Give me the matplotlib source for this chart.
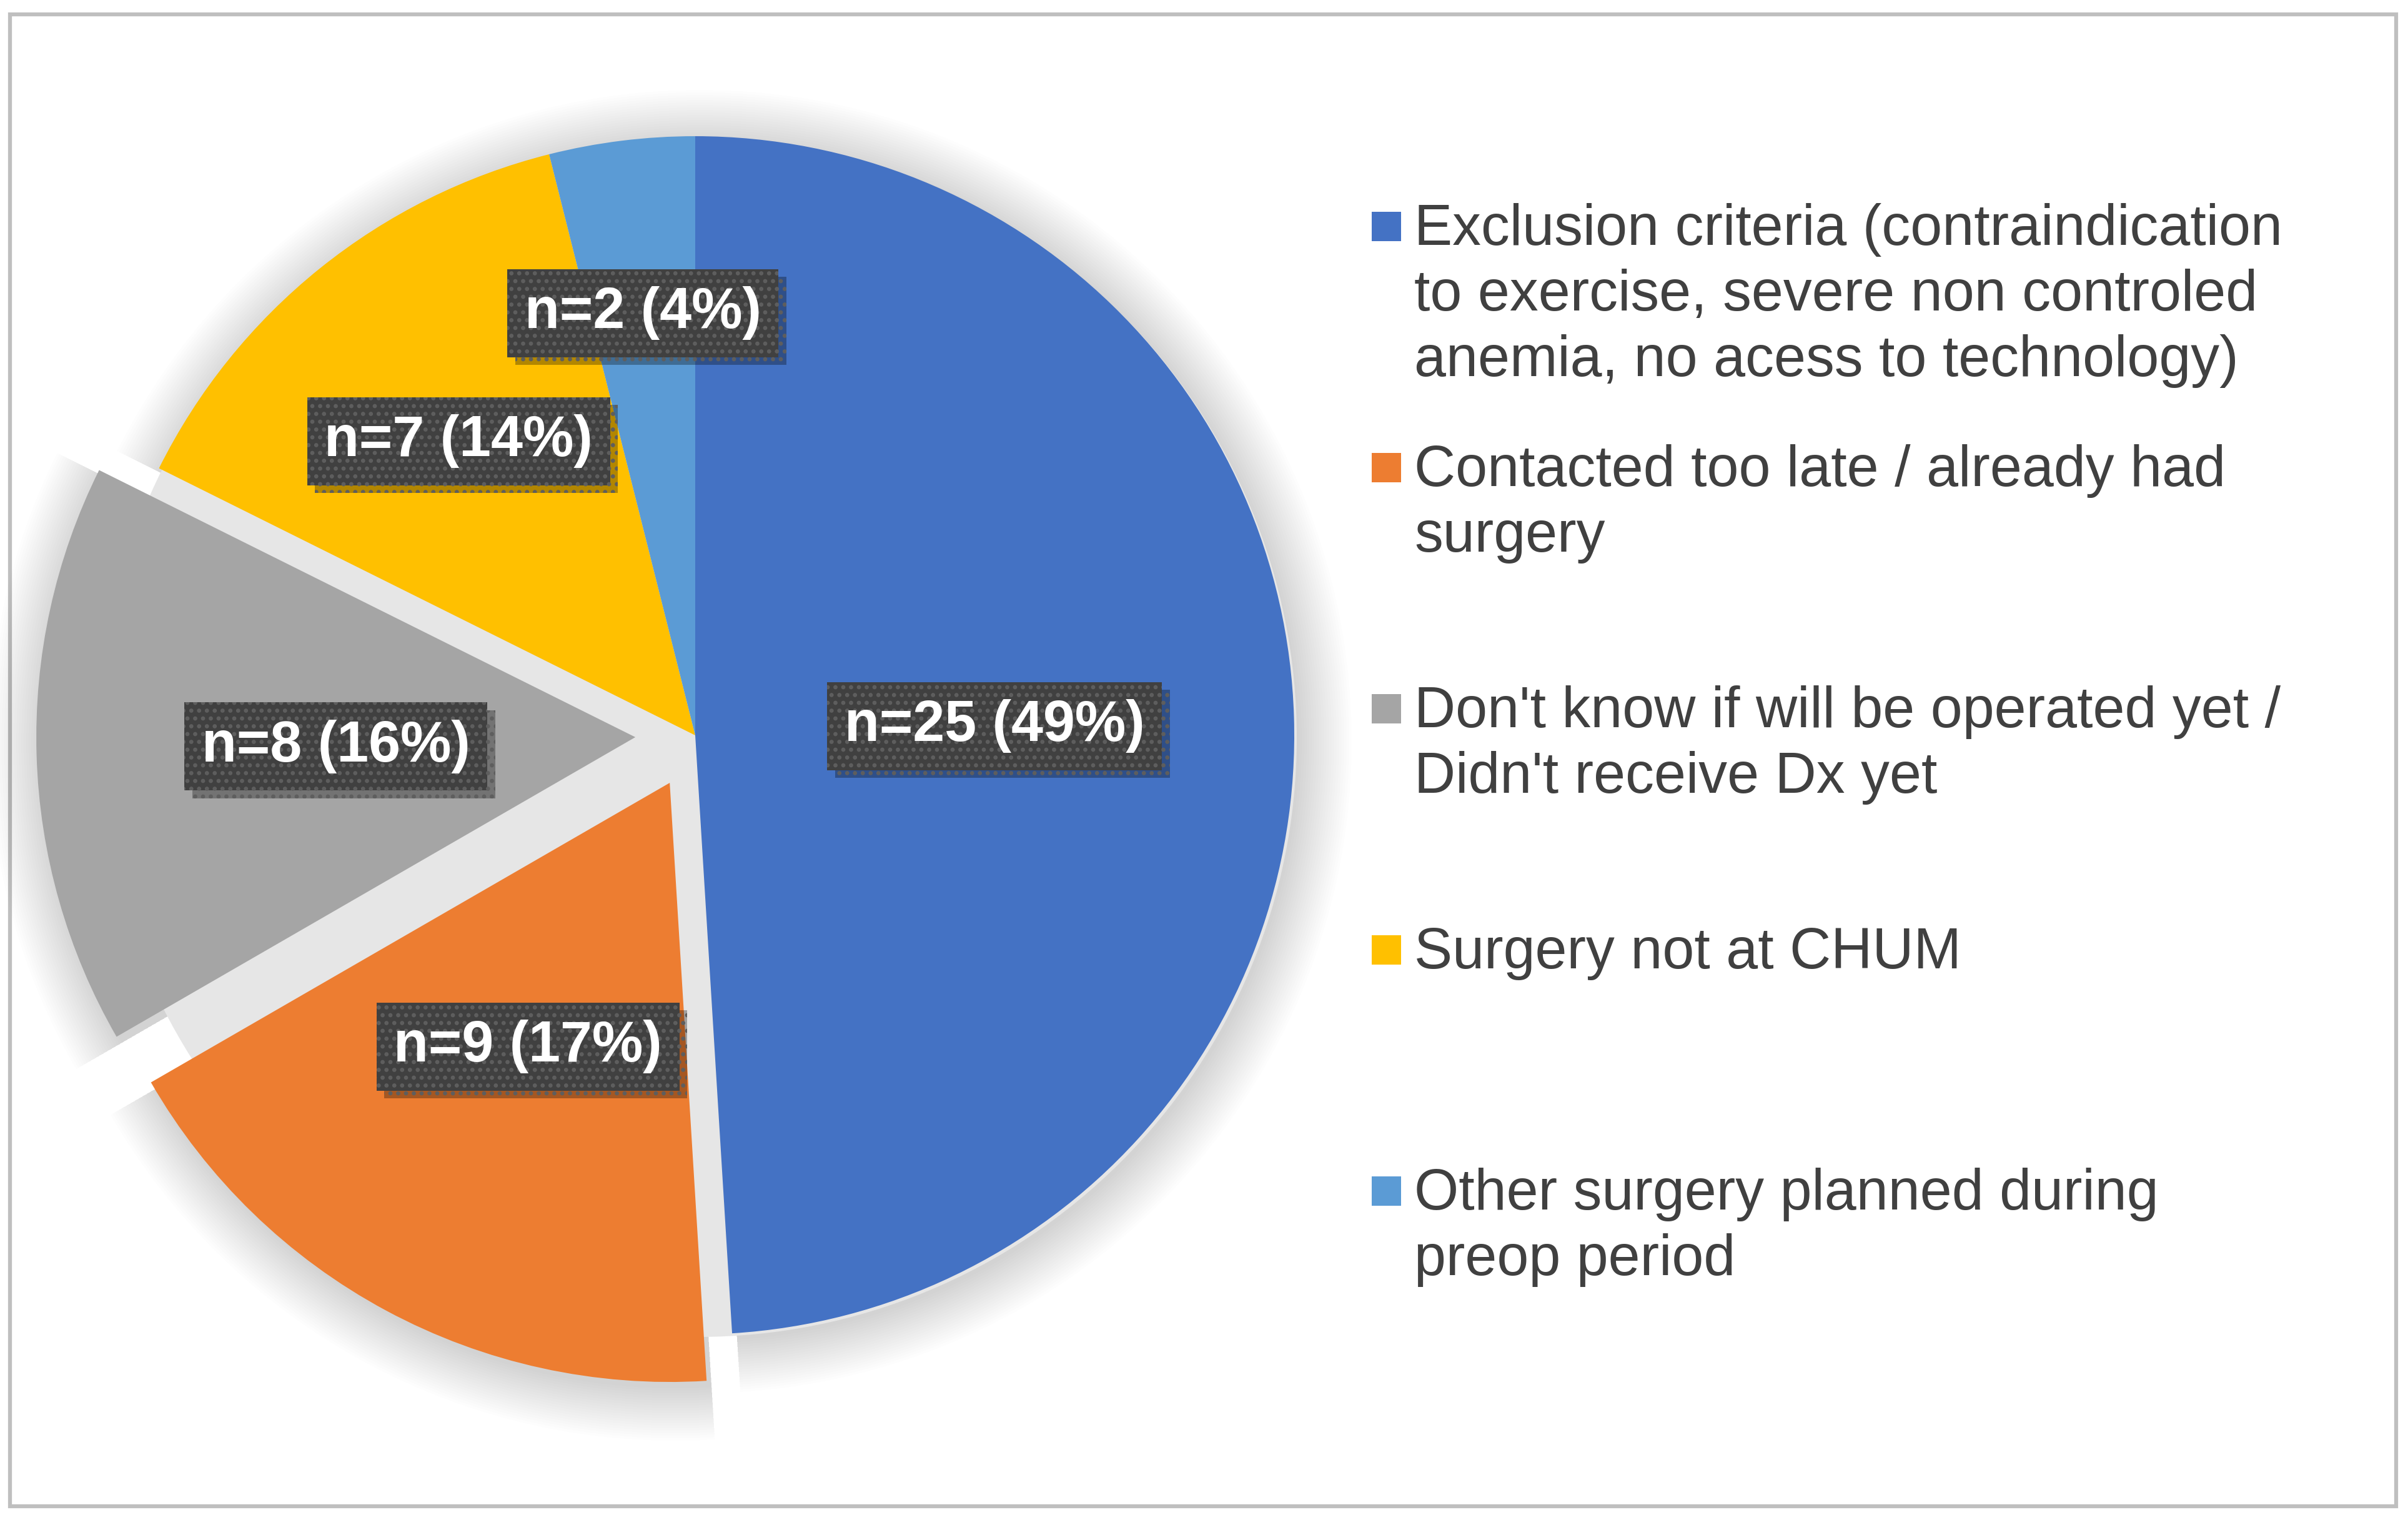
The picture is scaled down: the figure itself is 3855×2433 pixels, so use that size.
import matplotlib.pyplot as plt
import matplotlib.patheffects as pe
from matplotlib.patches import Wedge, Rectangle, Circle
import numpy as np

plt.rcParams['font.family'] = ['Liberation Sans', 'DejaVu Sans']

# data
categories = ["Exclusion criteria (contraindication\nto exercise, severe non controled\nanemia, no acess to technology)",
              "Contacted too late / already had\nsurgery",
              "Don't know if will be operated yet /\nDidn't receive Dx yet",
              "Surgery not at CHUM",
              "Other surgery planned during\npreop period"]
counts = [25, 9, 8, 7, 2]
percents = [49, 17, 16, 14, 4]
colors = ['#4472C4', '#ED7D31', '#A5A5A5', '#FFC000', '#5B9BD5']
explode = [0, 0.09, 0.1, 0, 0]       # fraction of radius
label_dist = [0.5, 0.5, 0.5, 0.63, 0.71]

W, H = 3855, 2433
fig = plt.figure(figsize=(W / 300, H / 300), dpi=300)
ax = fig.add_axes([0, 0, 1, 1])

# outer frame
ax.add_patch(Rectangle((16, H - 2411), 3820, 2411 - 23, fill=False,
                       edgecolor='#BFBFBF', linewidth=1.5, zorder=0))

cx, cy, R = 1113, H - 1177, 959
wedges, _ = ax.pie(counts, colors=colors, startangle=90, counterclock=False,
                   explode=[e * R for e in explode], radius=R, center=(cx, cy),
                   wedgeprops=dict(linewidth=0), frame=True)
ax.set_xlim(0, W)
ax.set_ylim(0, H)
ax.set_aspect('equal')
ax.axis('off')

# soft glow behind the slices
for w in wedges:
    wx, wy = w.center
    for k in range(22):
        g = Wedge((wx + 8, wy - 10), w.r + 4 * k, w.theta1, w.theta2,
                  facecolor='black', alpha=0.0065, linewidth=0, zorder=0.5)
        ax.add_patch(g)
    w.set_zorder(1)
# shaded gaps left by the pulled-out slices
ax.add_patch(Circle((cx + 4, cy - 4), R, facecolor='#E6E6E6', linewidth=0, zorder=0.6))

# data labels
for i, w in enumerate(wedges):
    ang = np.deg2rad((w.theta1 + w.theta2) / 2)
    wx, wy = w.center
    lx = wx + label_dist[i] * w.r * np.cos(ang)
    ly = wy + label_dist[i] * w.r * np.sin(ang)
    t = ax.text(lx, ly, f"n={counts[i]} ({percents[i]}%)", ha='center', va='center',
                fontsize=22, fontweight='bold', color='white', zorder=5,
                bbox=dict(boxstyle='square,pad=0.3', facecolor='#404040',
                          edgecolor='#5E5E5E', linewidth=0, hatch='....'))
    t.get_bbox_patch().set_path_effects([
        pe.SimplePatchShadow(offset=(3, -3), shadow_rgbFace='black', alpha=0.3),
        pe.Normal()])

# legend
sq_x, sq = 2196, 47
base0 = H - 392
step = 386
line_h = 105
for i, lab in enumerate(categories):
    b = base0 - i * step
    ax.add_patch(Rectangle((sq_x, b + 6), sq, sq, facecolor=colors[i],
                           linewidth=0, zorder=3))
    for j, line in enumerate(lab.split('\n')):
        ax.text(2264, b - j * line_h, line, fontsize=22, color='#404040',
                ha='left', va='baseline', zorder=3)

fig.savefig('out.png', dpi=300, facecolor='white')
